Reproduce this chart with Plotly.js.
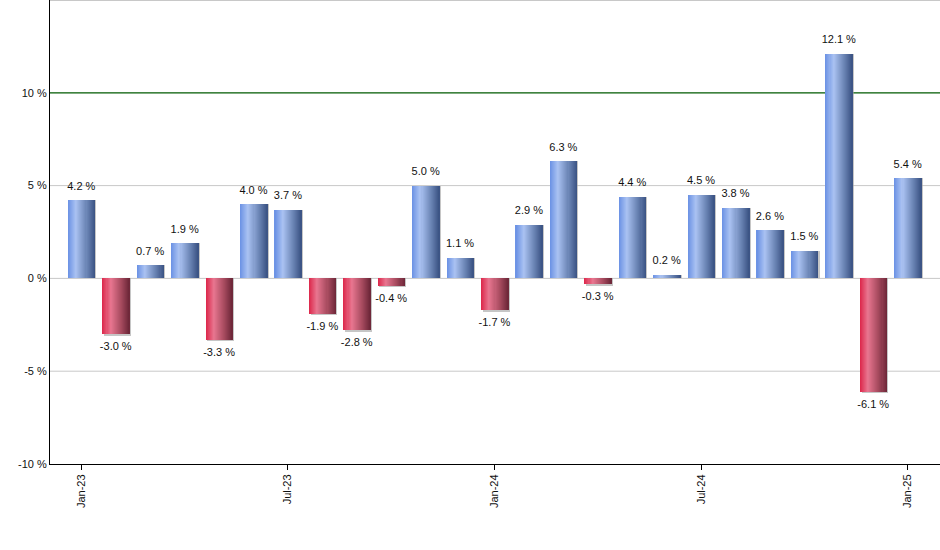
<!DOCTYPE html>
<html>
<head>
<meta charset="utf-8">
<script src="https://cdn.plot.ly/plotly-3.0.1.min.js"></script>
<style>html,body{margin:0;padding:0;background:#fff;}#chart{width:940px;height:550px;}</style>
</head>
<body>
<div id="chart"></div>
<script>
const months = ["Jan-23","Feb-23","Mar-23","Apr-23","May-23","Jun-23","Jul-23","Aug-23","Sep-23","Oct-23","Nov-23","Dec-23",
  "Jan-24","Feb-24","Mar-24","Apr-24","May-24","Jun-24","Jul-24","Aug-24","Sep-24","Oct-24","Nov-24","Dec-24","Jan-25"];
const returns = [4.2,-3.0,0.7,1.9,-3.3,4.0,3.7,-1.9,-2.8,-0.4,5.0,1.1,-1.7,2.9,6.3,-0.3,4.4,0.2,4.5,3.8,2.6,1.5,12.1,-6.1,5.4];
const yTicks = [-10,-5,0,5,10];
const gridLevels = [-5,0,5,15];

const idx = months.map((m,i)=>i);
const tickIdx = idx.filter(i => months[i].startsWith("Jan") || months[i].startsWith("Jul"));

function hex(c){return [parseInt(c.slice(1,3),16),parseInt(c.slice(3,5),16),parseInt(c.slice(5,7),16)];}
function grad(stops, t){
  for(let k=0;k<stops.length-1;k++){
    const [t0,c0]=stops[k],[t1,c1]=stops[k+1];
    if(t>=t0 && t<=t1){
      const f=(t-t0)/(t1-t0), a=hex(c0), b=hex(c1);
      return "rgb("+a.map((v,j)=>Math.round(v+(b[j]-v)*f)).join(",")+")";
    }
  }
  return stops[stops.length-1][1];
}
const blueStops = [[0,"#6a91e4"],[0.3,"#aac2f2"],[0.7,"#6a84b4"],[1,"#3a5283"]];
const redStops  = [[0,"#dc2649"],[0.3,"#e87690"],[0.7,"#a64a5e"],[1,"#6c2637"]];

const W = 0.78, N = 26;
const traces = [];
// soft shadow (right and bottom edge)
traces.push({type:"bar", x:idx, y:returns.map(v=>v>0?v:v-0.09), width:W, offset:-W/2+0.05,
  marker:{color:"rgba(160,160,160,0.6)", line:{width:0}}, hoverinfo:"skip", showlegend:false});
for(let s=0;s<N;s++){
  const t=(s+0.5)/N;
  traces.push({type:"bar", x:idx, y:returns, width:W/N*1.6, offset:-W/2+s*W/N,
    marker:{color:returns.map(v=>grad(v>=0?blueStops:redStops,t)), line:{width:0}},
    hoverinfo:"skip", showlegend:false});
}
traces.push({type:"scatter", mode:"text+markers", x:idx, y:returns,
  marker:{size:11, opacity:0},
  text:returns.map(v=>v.toFixed(1)+" %"),
  textposition:returns.map(v=>v>=0?"top center":"bottom center"),
  textfont:{family:"Liberation Sans, Arial, sans-serif", size:11, color:"#111"},
  hoverinfo:"skip", showlegend:false, cliponaxis:false});

const shapes = gridLevels.map(g=>({type:"line", xref:"paper", yref:"y", x0:0, x1:1, y0:g, y1:g,
  line:{color:"#c8c8c8", width:g===15?2:1}, layer:"between"}));
shapes.push({type:"line", xref:"paper", yref:"y", x0:0, x1:1, y0:10, y1:10, line:{color:"#005a00", width:1.2}, layer:"between"});

const layout = {
  width:940, height:550,
  margin:{l:50, r:0, t:0, b:86},
  paper_bgcolor:"#ffffff", plot_bgcolor:"#ffffff",
  barmode:"overlay", bargap:0,
  font:{family:"Liberation Sans, Arial, sans-serif", size:11, color:"#111"},
  xaxis:{range:[-0.91,24.94], tickmode:"array", tickvals:tickIdx, ticktext:tickIdx.map(i=>months[i]),
    tickangle:-90, ticks:"outside", ticklen:5, tickcolor:"#000", showgrid:false, zeroline:false,
    showline:true, linecolor:"#000", linewidth:1, tickfont:{size:11, color:"#111"}},
  yaxis:{range:[-10,15], tickmode:"array", tickvals:yTicks, ticktext:yTicks.map(v=>v+" %"),
    ticks:"", showgrid:false, zeroline:false,
    showline:true, linecolor:"#000", linewidth:1, tickfont:{size:11, color:"#111"}},
  shapes:shapes
};
Plotly.newPlot("chart", traces, layout, {staticPlot:true, displayModeBar:false});
</script>
</body>
</html>
